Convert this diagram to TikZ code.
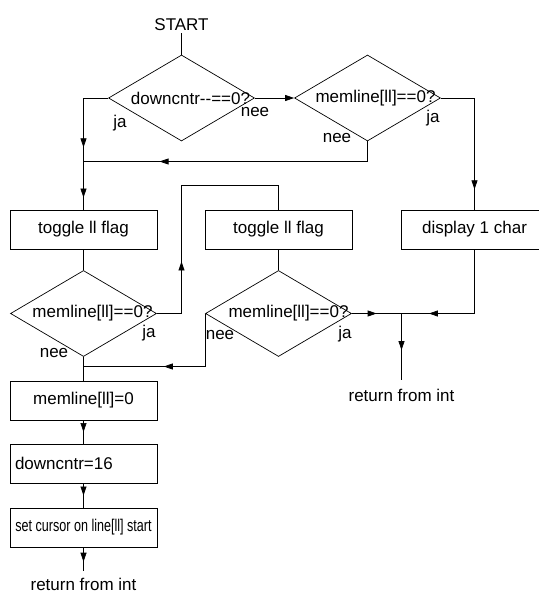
\documentclass[tikz,border=0pt]{standalone}
\usepackage{fontspec}
\usepackage{graphicx}
\newfontfamily\flowfont{Liberation Sans}
\usetikzlibrary{shapes.geometric,arrows.meta,decorations.markings}

\tikzset{
  box/.style={draw, minimum width=147pt, minimum height=39pt, inner sep=0pt},
  test/.style={draw, diamond, minimum width=146pt, minimum height=86pt, inner sep=0pt},
  tip/.style={-{Triangle[length=9pt,width=6pt]}},
  arrowat/.style={postaction={decorate},
    decoration={markings, mark=at position #1 with {\arrow{Triangle[length=9pt,width=6pt]}}}},
  tag/.style={inner sep=1pt, anchor=base},
  exit/.style={anchor=base, inner xsep=2pt, inner ysep=9pt},
}

\begin{document}
\begin{tikzpicture}[x=1pt, y=-1pt, line width=0.7pt, font=\flowfont\fontsize{17}{20}\selectfont]
    \useasboundingbox (0,0) rectangle (538,593);

    % Start and the two first tests
    \node[anchor=base, inner sep=2pt] (start) at (181.5,30.7) {START};
    \node[test, label={[xshift=9pt]center:downcntr-{}-==0?}] (cnt) at (181.5,98) {};
    \node[test, label={[xshift=8pt]center:memline[ll]==0?}] (mem1) at (367.5,98) {};

    % Boxes
    \node[box] (tog1) at (83.5,229.5) {toggle ll flag};
    \node[box] (tog2) at (278.5,229.5) {toggle ll flag};
    \node[box] (show) at (474.5,229.5) {display 1 char};
    \node[box] (clr) at (83.5,400.5) {memline[ll]=0};
    \node[box, text width=137pt, align=left, inner xsep=5pt] (cnt16) at (83.5,463.5) {downcntr=16};
    \node[box] (cur) at (83.5,527.5) {\scalebox{0.74}[1]{set cursor on line[ll] start}};

    % Lower tests
    \node[test, label={[xshift=9pt]center:memline[ll]==0?}] (mem2) at (83.5,313.5) {};
    \node[test, label={[xshift=10pt]center:memline[ll]==0?}] (mem3) at (278.5,313.5) {};

    % Exits
    \node[exit] (ret1) at (401.5,401.7) {return from int};
    \node[exit, inner ysep=6pt] (ret2) at (83.5,590) {return from int};

    % Junctions
    \coordinate (jtop) at (83.5,161.5);
    \coordinate (jmid) at (401.5,313.5);
    \coordinate (jlow) at (83.5,366.5);
    \coordinate (loop) at (181.5,185.5);

    % Connectors
    \draw (start) -- (cnt);
    \draw[tip] (cnt.east) -- (mem1.west);
    \draw[arrowat=0.84] (cnt.west) -| (jtop);
    \draw[arrowat=0.75] (jtop) -- (tog1);
    \draw[arrowat=0.75] (mem1.south) |- (jtop);
    \draw[arrowat=0.86] (mem1.east) -| (show);
    \draw (tog1) -- (mem2);
    \draw[arrowat=0.28] (mem2.east) -| (loop) -| (tog2);
    \draw (tog2) -- (mem3);
    \draw[arrowat=0.5] (mem3.east) -- (jmid);
    \draw[arrowat=0.8] (show) |- (jmid);
    \draw[arrowat=0.55] (jmid) -- (ret1);
    \draw[arrowat=0.54] (mem3.west) |- (jlow);
    \draw (mem2) -- (clr);
    \draw[arrowat=0.5] (clr) -- (cnt16);
    \draw[arrowat=0.5] (cnt16) -- (cur);
    \draw[arrowat=0.6] (cur) -- (ret2);

    % Answers
    \node[tag] (ja1) at (120,128) {ja};
    \node[tag] (nee1) at (255,117) {nee};
    \node[tag] (ja2) at (433,123) {ja};
    \node[tag] (nee2) at (337,143) {nee};
    \node[tag] (ja3) at (149,337) {ja};
    \node[tag] (nee3) at (54,357) {nee};
    \node[tag] (ja4) at (345,338) {ja};
    \node[tag] (nee4) at (220,339) {nee};
\end{tikzpicture}
\end{document}
